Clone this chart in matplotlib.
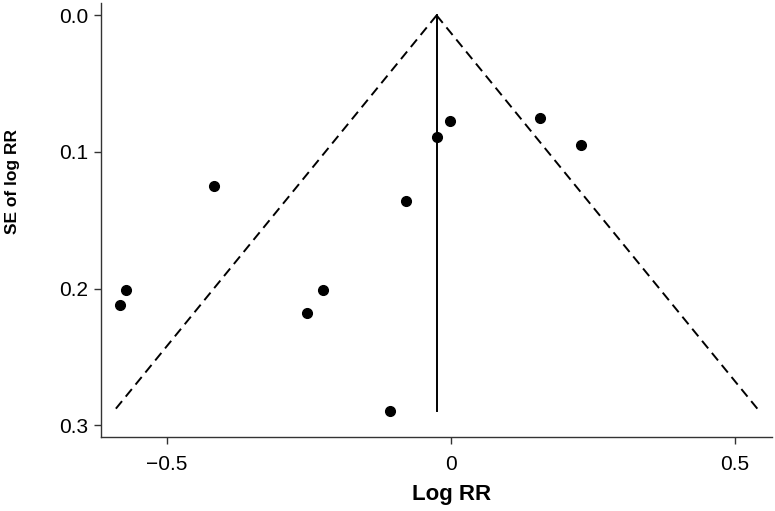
import numpy as np
import matplotlib
matplotlib.use('Agg')
import matplotlib.pyplot as plt

# study estimates
log_rr = [-0.572, -0.582, -0.253, -0.225, -0.107, -0.416, -0.078, -0.025, -0.001, 0.157, 0.229]
se_log_rr = [0.201, 0.212, 0.218, 0.201, 0.290, 0.125, 0.136, 0.089, 0.077, 0.075, 0.095]

pooled = -0.025
se_max = 0.290
x_ticks = [-0.5, 0, 0.5]
x_tick_labels = ['\u22120.5', '0', '0.5']
y_ticks = [0.0, 0.1, 0.2, 0.3]
y_tick_labels = ['0.0', '0.1', '0.2', '0.3']

plt.rcParams['font.family'] = ['Liberation Sans', 'DejaVu Sans']

fig = plt.figure(figsize=(7.75, 5.11), dpi=100)
ax = fig.add_axes([0.130, 0.144, 0.866, 0.850])

# funnel (95% pseudo confidence limits)
se_line = np.array([0, se_max])
ax.plot(pooled - 1.96 * se_line, se_line, color='black', lw=1.4, ls=(0, (5, 3)))
ax.plot(pooled + 1.96 * se_line, se_line, color='black', lw=1.4, ls=(0, (5, 3)))
ax.plot([pooled, pooled], [0, se_max], color='black', lw=1.4)

ax.plot(log_rr, se_log_rr, 'o', color='black', markersize=7)

ax.set_xlim(-0.616, 0.565)
ax.set_ylim(0.309, -0.009)
ax.set_xticks(x_ticks)
ax.set_xticklabels(x_tick_labels)
ax.set_yticks(y_ticks)
ax.set_yticklabels(y_tick_labels)

for s in ['top', 'right']:
    ax.spines[s].set_visible(False)
for s in ['left', 'bottom']:
    ax.spines[s].set_color('#333333')
    ax.spines[s].set_linewidth(1.0)

ax.tick_params(direction='out', length=5, width=1.0, color='#333333', labelsize=15)
ax.tick_params(axis='x', pad=8)
ax.tick_params(axis='y', pad=4)
ax.set_xlabel('Log RR', fontsize=16, fontweight='bold')
ax.set_ylabel('SE of log RR', fontsize=12.5, fontweight='bold')
ax.xaxis.set_label_coords(0.523, -0.108)
ax.yaxis.set_label_coords(-0.12, 0.59)

fig.savefig('out.png', dpi=100)
